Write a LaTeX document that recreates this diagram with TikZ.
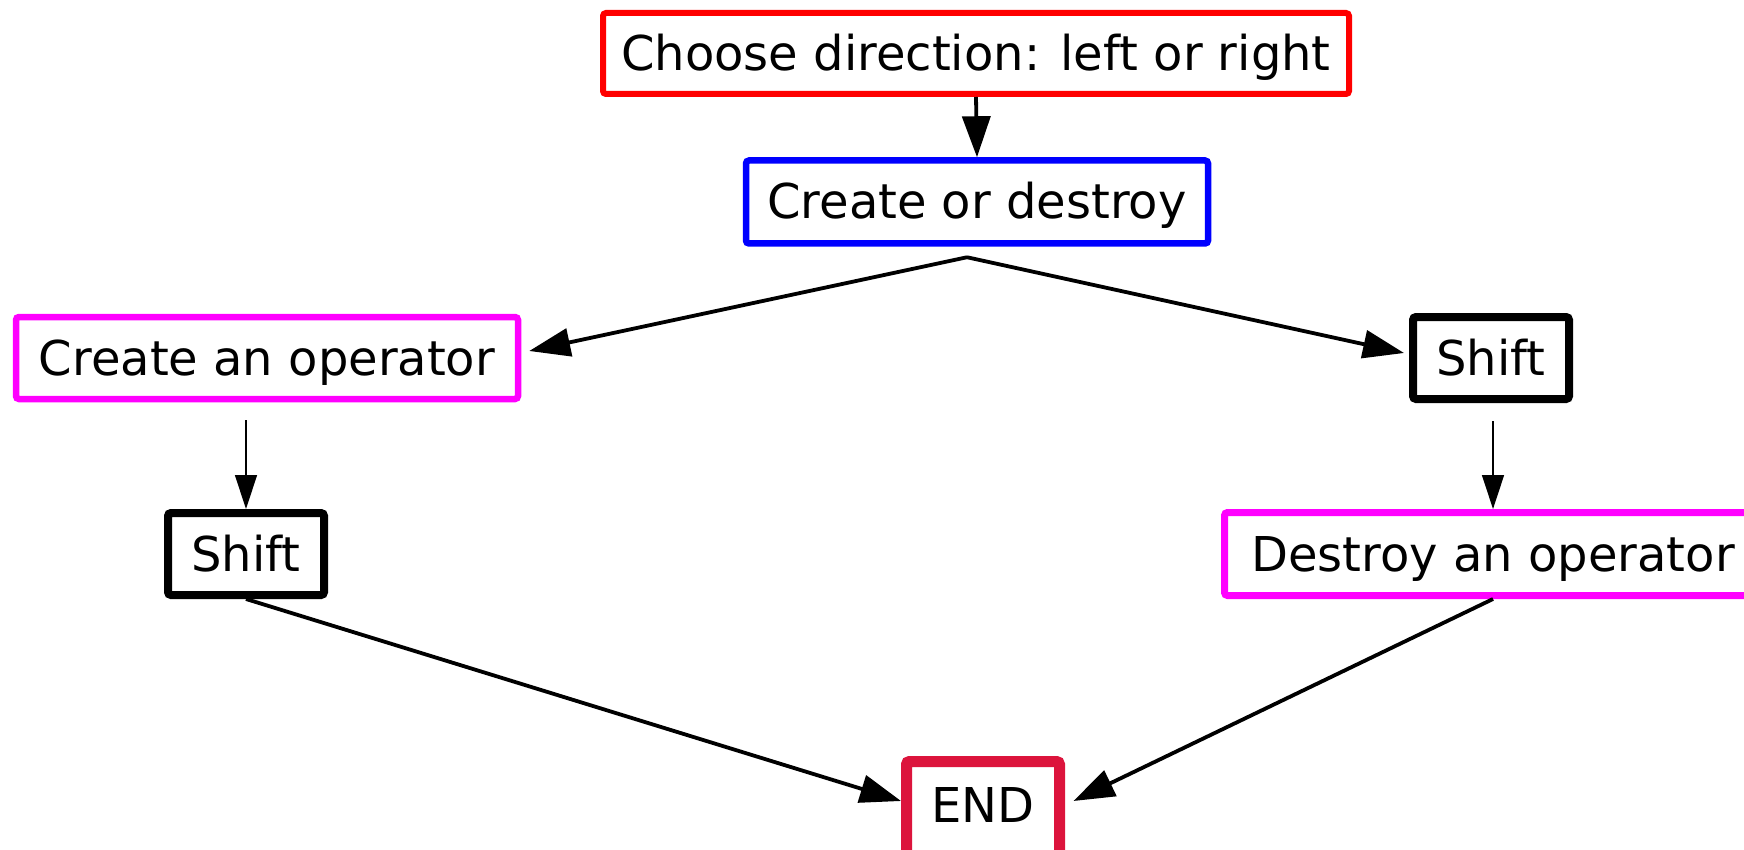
\documentclass[tikz,border=0pt]{standalone}
\usepackage{fontspec}
\setmainfont{DejaVu Sans}
\usetikzlibrary{arrows.meta,calc}
\definecolor{endred}{RGB}{220,20,60}
\definecolor{boxred}{RGB}{255,0,0}
\definecolor{boxblue}{RGB}{0,0,255}
\definecolor{boxmag}{RGB}{255,0,255}
\begin{document}
\begin{tikzpicture}[x=1pt,y=-1pt,
  box/.style={draw, rounded corners=3pt, inner sep=0pt, text height=37pt, text depth=3pt,
    font=\fontsize{48}{58}\selectfont, fill=white},
  bigarrow/.style={line width=3.8pt, -{Triangle[length=41pt,width=28pt]}},
  smallarrow/.style={line width=1.4pt, -{Triangle[length=34pt,width=22pt]}}]
\useasboundingbox (0,0) rectangle (1744,850);
\clip (0,0) rectangle (1744,850);
\node[box, draw=boxred, line width=6pt, minimum width=746pt, minimum height=81pt] (choose) at (976,53.5) {Choose direction: left or right};
\node[box, draw=boxblue, line width=6.5pt, minimum width=462pt, minimum height=83pt] (cod) at (977,202) {Create or destroy};
\node[box, draw=boxmag, line width=6.5pt, minimum width=502pt, minimum height=82pt] (cao) at (267,358) {Create an operator};
\node[box, line width=8pt, minimum width=156pt, minimum height=82pt] (sR) at (1491,358) {Shift};
\node[box, line width=8pt, minimum width=156pt, minimum height=82pt] (sL) at (246,554) {Shift};
\node[box, draw=boxmag, line width=7pt, minimum width=537pt, minimum height=83pt] (dao) at (1493,554) {Destroy an operator};
\node[box, draw=endred, line width=11pt, minimum width=153pt, minimum height=96pt,
  text height=30pt, text depth=5pt] (end) at (983,809.5) {END};
\draw[bigarrow] (choose.south) -- (cod.north);
\draw[bigarrow] ($(cod.south)+(-10,10.5)$) -- ($(cao.east)+(8,-7)$);
\draw[bigarrow] ($(cod.south)+(-10,10.5)$) -- ($(sR.west)+(-5,-5)$);
\draw[smallarrow] ($(sL.north |- cao.south)+(0,18)$) -- (sL.north);
\draw[smallarrow] ($(dao.north |- sR.south)+(0,18)$) -- (dao.north);
\draw[bigarrow] (sL.south) -- ($(end.west)+(0,-8.5)$);
\draw[bigarrow] (dao.south) -- ($(end.east)+(8.5,-8.5)$);
\end{tikzpicture}
\end{document}
